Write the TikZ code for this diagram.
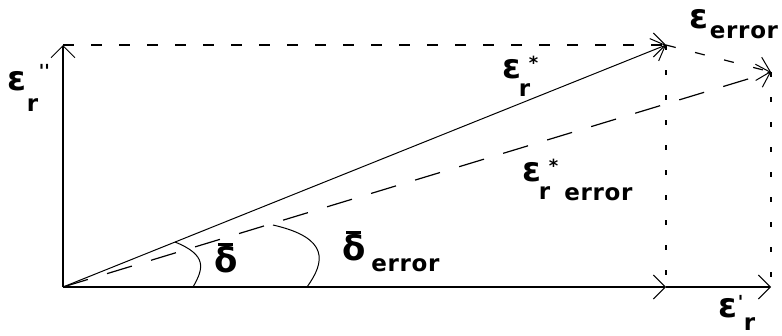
\documentclass[tikz,border=0pt]{standalone}
\usepackage{fontspec}
\setmainfont{DejaVu Sans}
\newfontfamily\lf{DejaVu Sans}[LetterSpace=3]
\usetikzlibrary{arrows.meta}
\newcommand\Lbig{\fontsize{34}{34}\selectfont}
\newcommand\Lsub{\fontsize{23}{23}\selectfont}
\newcommand\Lsup{\fontsize{18}{18}\selectfont}
\newcommand\Dbar{\ooalign{δ\cr\hidewidth\rule[26pt]{15pt}{3.5pt}\hidewidth\cr}}
\tikzset{
  lab/.style={inner sep=0pt, outer sep=0pt, anchor=base west, font=\lf\bfseries},
  head/.style={-{Straight Barb[length=12pt,width=24pt,line width=1pt]}},
  axis/.style={line width=2pt, head},
  thin/.style={line width=1pt},
  dash1/.style={line width=1.2pt, dash pattern=on 11pt off 17pt},
  dash2/.style={line width=1.2pt, dash pattern=on 26pt off 20pt},
  dash3/.style={line width=1.2pt, dash pattern=on 10pt off 20pt},
  dot1/.style={line width=1.5pt, dash pattern=on 5pt off 20pt},
}
\begin{document}
\begin{tikzpicture}[x=1pt,y=-1pt]
\useasboundingbox (0,0) rectangle (782,335);
\coordinate (O) at (63,287);
\coordinate (T) at (63,45);
\coordinate (P) at (666,45);
\coordinate (Q) at (771,72);
\coordinate (A) at (666,287);
\coordinate (B) at (771,287);
\coordinate (D1s) at (175,242);
\coordinate (D1e) at (193,287);
\coordinate (D2s) at (273,225);
\coordinate (D2e) at (307,287);
% axes
\draw[axis] (O) -- (T);
\draw[axis] (O) -- (A);
\draw[axis] (A) -- (B);
% top dashed
\draw[dash1, head] (T) -- (P);
% vectors
\draw[thin, head] (O) -- (P);
\draw[dash2, head] (O) -- (Q);
\draw[dash3, head] (P) -- (Q);
% dotted verticals
\draw[dot1] (P) -- (A);
\draw[dot1] (Q) -- (B);
% angle marks
\draw[thin] (D1s) .. controls (207,255) and (204,268) .. (D1e);
\draw[thin] (D2s) .. controls (330,238) and (325,262) .. (D2e);
% labels
\node[lab] (epsim) at (8,90) {\Lbig ε\kern0pt\rlap{\kern12pt\raisebox{13pt}{\Lsup\textquotesingle\textquotesingle}}\raisebox{-21pt}{\Lsub r}};
\node[lab] (epsstar) at (502,78) {\Lbig ε\kern-2pt\rlap{\kern10pt\raisebox{9pt}{\Lsup *}}\raisebox{-18pt}{\Lsub r}};
\node[lab] (epserr) at (689,28) {\Lbig ε\kern2pt\raisebox{-10pt}{\Lsub error}};
\node[lab] (epsstarerr) at (522,181) {\Lbig ε\kern-2pt\rlap{\kern10pt\raisebox{9pt}{\Lsup *}}\raisebox{-18pt}{\Lsub r}\kern14pt\raisebox{-19pt}{\Lsub error}};
\node[lab] (epsre) at (718,317) {\Lbig ε\kern1pt\rlap{\raisebox{9pt}{\Lsup\textquotesingle}}\kern6pt\raisebox{-13pt}{\Lsub r}};
\node[lab] (delta) at (214,272) {\Lbig\Dbar};
\node[lab] (deltaerr) at (342,260) {\Lbig\Dbar\kern6pt\raisebox{-11pt}{\Lsub error}};
\end{tikzpicture}
\end{document}
